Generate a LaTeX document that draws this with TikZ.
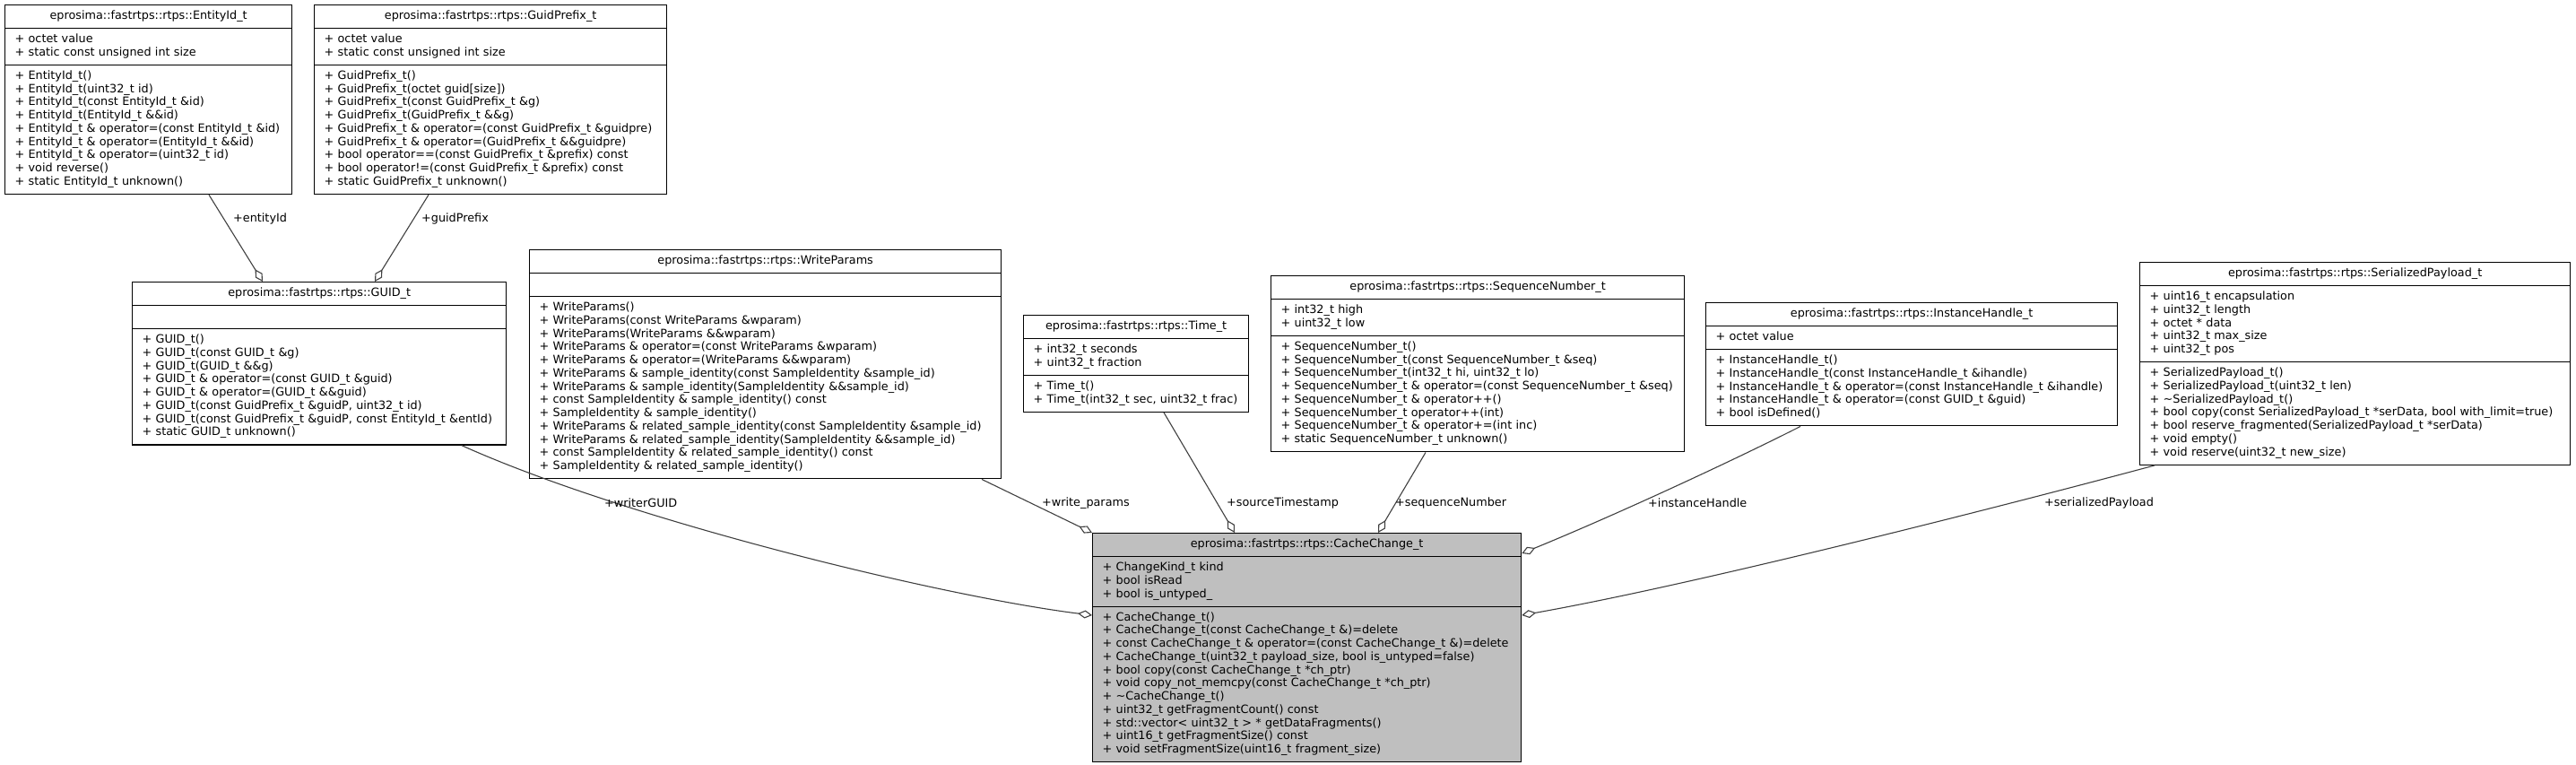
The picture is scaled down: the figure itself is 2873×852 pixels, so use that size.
\documentclass[tikz,border=0pt]{standalone}
\usepackage{fontspec}
\setmainfont{DejaVu Sans}
\usetikzlibrary{shapes.multipart,arrows.meta}
\definecolor{bordercol}{RGB}{0,0,0}
\definecolor{edgecol}{RGB}{64,64,64}
\definecolor{ccfill}{RGB}{191,191,191}
\newcommand\ml[1]{\noindent\strut#1\par}
\tikzset{
  umlclass/.style={draw=bordercol, line width=1.3pt, rectangle split, rectangle split parts=3,
    anchor=north west, inner xsep=11pt, inner ysep=5pt, align=left,
    font=\fontsize{12.8}{14.75}\selectfont, fill=white},
  agg/.style={draw=edgecol, line width=1.1pt, {Diamond[open,length=16pt,width=9pt]}-},
  lbl/.style={anchor=west, inner sep=0pt, font=\fontsize{12.8}{14.75}\selectfont},
}
\begin{document}
\begin{tikzpicture}[x=1pt,y=-1pt]
\useasboundingbox (0,0) rectangle (2873,852);

\node[umlclass, text width=298pt] (eid) at (5,5) {\centering\ml{eprosima::fastrtps::rtps::EntityId\_t}
\nodepart{two}\ml{+ octet value}\ml{+ static const unsigned int size}
\nodepart{three}\ml{+ EntityId\_t()}\ml{+ EntityId\_t(uint32\_t id)}\ml{+ EntityId\_t(const EntityId\_t \&id)}\ml{+ EntityId\_t(EntityId\_t \&\&id)}\ml{+ EntityId\_t \& operator=(const EntityId\_t \&id)}\ml{+ EntityId\_t \& operator=(EntityId\_t \&\&id)}\ml{+ EntityId\_t \& operator=(uint32\_t id)}\ml{+ void reverse()}\ml{+ static EntityId\_t unknown()}};

\node[umlclass, text width=371pt] (gp) at (350,5) {\centering\ml{eprosima::fastrtps::rtps::GuidPrefix\_t}
\nodepart{two}\ml{+ octet value}\ml{+ static const unsigned int size}
\nodepart{three}\ml{+ GuidPrefix\_t()}\ml{+ GuidPrefix\_t(octet guid[size])}\ml{+ GuidPrefix\_t(const GuidPrefix\_t \&g)}\ml{+ GuidPrefix\_t(GuidPrefix\_t \&\&g)}\ml{+ GuidPrefix\_t \& operator=(const GuidPrefix\_t \&guidpre)}\ml{+ GuidPrefix\_t \& operator=(GuidPrefix\_t \&\&guidpre)}\ml{+ bool operator==(const GuidPrefix\_t \&prefix) const}\ml{+ bool operator!=(const GuidPrefix\_t \&prefix) const}\ml{+ static GuidPrefix\_t unknown()}};

\node[umlclass, text width=395pt] (guid) at (147,314) {\centering\ml{eprosima::fastrtps::rtps::GUID\_t}
\nodepart{two}\ml{}
\nodepart{three}\ml{+ GUID\_t()}\ml{+ GUID\_t(const GUID\_t \&g)}\ml{+ GUID\_t(GUID\_t \&\&g)}\ml{+ GUID\_t \& operator=(const GUID\_t \&guid)}\ml{+ GUID\_t \& operator=(GUID\_t \&\&guid)}\ml{+ GUID\_t(const GuidPrefix\_t \&guidP, uint32\_t id)}\ml{+ GUID\_t(const GuidPrefix\_t \&guidP, const EntityId\_t \&entId)}\ml{+ static GUID\_t unknown()}};

\node[umlclass, text width=504pt] (wp) at (590,278) {\centering\ml{eprosima::fastrtps::rtps::WriteParams}
\nodepart{two}\ml{}
\nodepart{three}\ml{+ WriteParams()}\ml{+ WriteParams(const WriteParams \&wparam)}\ml{+ WriteParams(WriteParams \&\&wparam)}\ml{+ WriteParams \& operator=(const WriteParams \&wparam)}\ml{+ WriteParams \& operator=(WriteParams \&\&wparam)}\ml{+ WriteParams \& sample\_identity(const SampleIdentity \&sample\_id)}\ml{+ WriteParams \& sample\_identity(SampleIdentity \&\&sample\_id)}\ml{+ const SampleIdentity \& sample\_identity() const}\ml{+ SampleIdentity \& sample\_identity()}\ml{+ WriteParams \& related\_sample\_identity(const SampleIdentity \&sample\_id)}\ml{+ WriteParams \& related\_sample\_identity(SampleIdentity \&\&sample\_id)}\ml{+ const SampleIdentity \& related\_sample\_identity() const}\ml{+ SampleIdentity \& related\_sample\_identity()}};

\node[umlclass, text width=229pt] (tm) at (1141,351) {\centering\ml{eprosima::fastrtps::rtps::Time\_t}
\nodepart{two}\ml{+ int32\_t seconds}\ml{+ uint32\_t fraction}
\nodepart{three}\ml{+ Time\_t()}\ml{+ Time\_t(int32\_t sec, uint32\_t frac)}};

\node[umlclass, text width=439pt] (sn) at (1417,307) {\centering\ml{eprosima::fastrtps::rtps::SequenceNumber\_t}
\nodepart{two}\ml{+ int32\_t high}\ml{+ uint32\_t low}
\nodepart{three}\ml{+ SequenceNumber\_t()}\ml{+ SequenceNumber\_t(const SequenceNumber\_t \&seq)}\ml{+ SequenceNumber\_t(int32\_t hi, uint32\_t lo)}\ml{+ SequenceNumber\_t \& operator=(const SequenceNumber\_t \&seq)}\ml{+ SequenceNumber\_t \& operator++()}\ml{+ SequenceNumber\_t operator++(int)}\ml{+ SequenceNumber\_t \& operator+=(int inc)}\ml{+ static SequenceNumber\_t unknown()}};

\node[umlclass, text width=437pt] (ih) at (1902,337) {\centering\ml{eprosima::fastrtps::rtps::InstanceHandle\_t}
\nodepart{two}\ml{+ octet value}
\nodepart{three}\ml{+ InstanceHandle\_t()}\ml{+ InstanceHandle\_t(const InstanceHandle\_t \&ihandle)}\ml{+ InstanceHandle\_t \& operator=(const InstanceHandle\_t \&ihandle)}\ml{+ InstanceHandle\_t \& operator=(const GUID\_t \&guid)}\ml{+ bool isDefined()}};

\node[umlclass, text width=458pt] (sp) at (2386,292) {\centering\ml{eprosima::fastrtps::rtps::SerializedPayload\_t}
\nodepart{two}\ml{+ uint16\_t encapsulation}\ml{+ uint32\_t length}\ml{+ octet * data}\ml{+ uint32\_t max\_size}\ml{+ uint32\_t pos}
\nodepart{three}\ml{+ SerializedPayload\_t()}\ml{+ SerializedPayload\_t(uint32\_t len)}\ml{+ \textasciitilde SerializedPayload\_t()}\ml{+ bool copy(const SerializedPayload\_t *serData, bool with\_limit=true)}\ml{+ bool reserve\_fragmented(SerializedPayload\_t *serData)}\ml{+ void empty()}\ml{+ void reserve(uint32\_t new\_size)}};

\node[umlclass, fill=ccfill, text width=456pt] (cc) at (1218,594) {\centering\ml{eprosima::fastrtps::rtps::CacheChange\_t}
\nodepart{two}\ml{+ ChangeKind\_t kind}\ml{+ bool isRead}\ml{+ bool is\_untyped\_}
\nodepart{three}\ml{+ CacheChange\_t()}\ml{+ CacheChange\_t(const CacheChange\_t \&)=delete}\ml{+ const CacheChange\_t \& operator=(const CacheChange\_t \&)=delete}\ml{+ CacheChange\_t(uint32\_t payload\_size, bool is\_untyped=false)}\ml{+ bool copy(const CacheChange\_t *ch\_ptr)}\ml{+ void copy\_not\_memcpy(const CacheChange\_t *ch\_ptr)}\ml{+ \textasciitilde CacheChange\_t()}\ml{+ uint32\_t getFragmentCount() const}\ml{+ std::vector< uint32\_t > * getDataFragments()}\ml{+ uint16\_t getFragmentSize() const}\ml{+ void setFragmentSize(uint16\_t fragment\_size)}};

% connectors (aggregation diamonds at the owner)
\draw[agg] ([xshift=146pt]guid.north west) -- ([xshift=228pt]eid.south west);
\draw[agg] ([xshift=271pt]guid.north west) -- ([xshift=128pt]gp.south west);
\draw[agg] ([yshift=-92pt]cc.north west) .. controls (1050,665) and (700,580) .. ([xshift=368pt]guid.south west);
\draw[agg] (cc.north west) -- ([xshift=505pt]wp.south west);
\draw[agg] ([xshift=159pt]cc.north west) -- ([xshift=157pt]tm.south west);
\draw[agg] ([xshift=319pt]cc.north west) -- ([xshift=173pt]sn.south west);
\draw[agg] ([yshift=-23pt]cc.north east) .. controls (1800,575) and (1930,515) .. ([xshift=106pt]ih.south west);
\draw[agg] ([yshift=-92pt]cc.north east) .. controls (1900,650) and (2250,560) .. ([xshift=17pt]sp.south west);

\node[lbl] (l1) at (260,244) {+entityId};
\node[lbl] (l2) at (470,244) {+guidPrefix};
\node[lbl] (l3) at (674,561) {+writerGUID};
\node[lbl] (l4) at (1162,561) {+write\_params};
\node[lbl] (l5) at (1368,561) {+sourceTimestamp};
\node[lbl] (l6) at (1556,561) {+sequenceNumber};
\node[lbl] (l7) at (1838,561) {+instanceHandle};
\node[lbl] (l8) at (2280,561) {+serializedPayload};
\end{tikzpicture}
\end{document}
